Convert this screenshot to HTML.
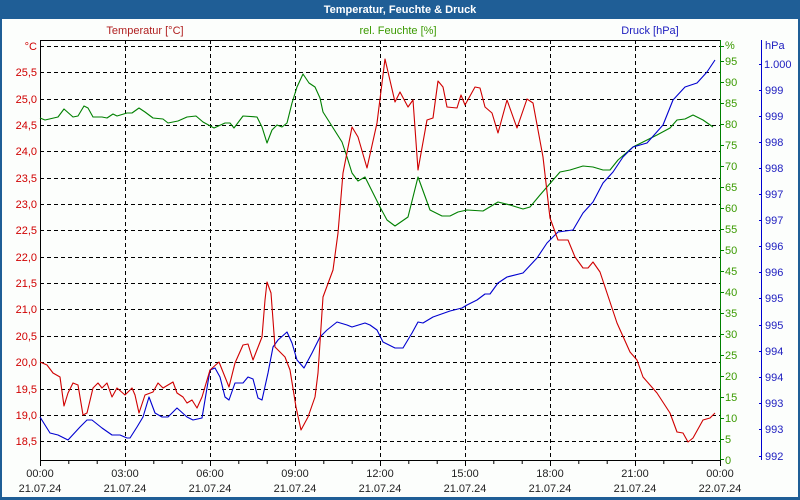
<!DOCTYPE html>
<html><head><meta charset="utf-8"><style>
html,body{margin:0;padding:0;background:#fff;}
svg{display:block;font-family:"Liberation Sans",sans-serif;font-size:11px;}
</style></head><body>
<svg width="800" height="500" viewBox="0 0 800 500" xmlns="http://www.w3.org/2000/svg">
<rect x="0" y="0" width="800" height="500" fill="#1f5e96"/>
<rect x="2" y="19" width="796" height="478" fill="#fcfefc"/>
<text x="400" y="13" fill="#fff" font-weight="bold" text-anchor="middle">Temperatur, Feuchte &amp; Druck</text>
<text x="145" y="34" fill="#b02020" text-anchor="middle">Temperatur [°C]</text>
<text x="398" y="34" fill="#3a9a00" text-anchor="middle">rel. Feuchte [%]</text>
<text x="650" y="34" fill="#2020c0" text-anchor="middle">Druck [hPa]</text>
<g stroke="#000" stroke-width="1" stroke-dasharray="4,3" fill="none">
<path d="M40 46.5H720M40 72.5H720M40 99.5H720M40 125.5H720M40 151.5H720M40 178.5H720M40 204.5H720M40 230.5H720M40 257.5H720M40 283.5H720M40 309.5H720M40 336.5H720M40 362.5H720M40 389.5H720M40 415.5H720M40 441.5H720"/>
<path d="M125.5 40V460M210.5 40V460M295.5 40V460M380.5 40V460M465.5 40V460M550.5 40V460M635.5 40V460"/>
</g>
<path d="M40.5 460V40.5H720" stroke="#000" fill="none"/>
<path d="M40 460.5H720" stroke="#000"/>
<path d="M40.5 460V466M68.8 460V464M97.2 460V464M125.5 460V466M153.8 460V464M182.2 460V464M210.5 460V466M238.8 460V464M267.2 460V464M295.5 460V466M323.8 460V464M352.2 460V464M380.5 460V466M408.8 460V464M437.2 460V464M465.5 460V466M493.8 460V464M522.2 460V464M550.5 460V466M578.8 460V464M607.2 460V464M635.5 460V466M663.8 460V464M692.2 460V464M720.5 460V466" stroke="#000"/>
<g fill="#222" text-anchor="middle">
<text x="40" y="477">00:00</text><text x="40" y="492">21.07.24</text>
<text x="125" y="477">03:00</text><text x="125" y="492">21.07.24</text>
<text x="210" y="477">06:00</text><text x="210" y="492">21.07.24</text>
<text x="295" y="477">09:00</text><text x="295" y="492">21.07.24</text>
<text x="380" y="477">12:00</text><text x="380" y="492">21.07.24</text>
<text x="465" y="477">15:00</text><text x="465" y="492">21.07.24</text>
<text x="550" y="477">18:00</text><text x="550" y="492">21.07.24</text>
<text x="635" y="477">21:00</text><text x="635" y="492">21.07.24</text>
<text x="720" y="477">00:00</text><text x="720" y="492">22.07.24</text>
</g>
<g fill="#d00000" text-anchor="end">
<text x="37" y="50">°C</text><text x="37" y="76">25,5</text><text x="37" y="103">25,0</text><text x="37" y="129">24,5</text><text x="37" y="155">24,0</text><text x="37" y="182">23,5</text><text x="37" y="208">23,0</text><text x="37" y="234">22,5</text><text x="37" y="261">22,0</text><text x="37" y="287">21,5</text><text x="37" y="313">21,0</text><text x="37" y="340">20,5</text><text x="37" y="366">20,0</text><text x="37" y="393">19,5</text><text x="37" y="419">19,0</text><text x="37" y="445">18,5</text>
</g>
<path d="M720.5 40V460" stroke="#008000"/>
<g stroke="#008000"><path d="M720 46.5h4M720 61.5h4M720 82.5h4M720 103.5h4M720 124.5h4M720 145.5h4M720 166.5h4M720 187.5h4M720 208.5h4M720 229.5h4M720 250.5h4M720 271.5h4M720 292.5h4M720 313.5h4M720 334.5h4M720 355.5h4M720 376.5h4M720 397.5h4M720 418.5h4M720 439.5h4M720 459.5h4"/></g>
<g fill="#3a9a00">
<text x="725" y="49">%</text><text x="725" y="65">95</text><text x="725" y="86">90</text><text x="725" y="107">85</text><text x="725" y="128">80</text><text x="725" y="149">75</text><text x="725" y="170">70</text><text x="725" y="191">65</text><text x="725" y="212">60</text><text x="725" y="233">55</text><text x="725" y="254">50</text><text x="725" y="275">45</text><text x="725" y="296">40</text><text x="725" y="317">35</text><text x="725" y="338">30</text><text x="725" y="359">25</text><text x="725" y="380">20</text><text x="725" y="401">15</text><text x="725" y="422">10</text><text x="725" y="443">5</text><text x="725" y="464">0</text>
</g>
<path d="M761.5 40V460" stroke="#0000d0"/>
<g stroke="#0000d0"><path d="M759 64.5h3M759 90.5h3M759 116.5h3M759 142.5h3M759 168.5h3M759 194.5h3M759 220.5h3M759 246.5h3M759 272.5h3M759 298.5h3M759 325.5h3M759 351.5h3M759 377.5h3M759 403.5h3M759 429.5h3M759 456.5h3"/></g>
<g fill="#2020c0">
<text x="765" y="49">hPa</text><text x="764" y="68">1.000</text><text x="765" y="94">999</text><text x="765" y="120">999</text><text x="765" y="146">998</text><text x="765" y="172">998</text><text x="765" y="198">997</text><text x="765" y="224">997</text><text x="765" y="250">996</text><text x="765" y="276">996</text><text x="765" y="302">995</text><text x="765" y="329">995</text><text x="765" y="355">994</text><text x="765" y="381">994</text><text x="765" y="407">993</text><text x="765" y="433">993</text><text x="765" y="460">992</text>
</g>
<g fill="none" stroke-width="1.1" stroke-linejoin="round">
<polyline stroke="#008000" points="40,118 45,120 58,117 64,109 73,117 78,116 84,106 88,108 93,117 102,117 107,118 113,114 117,116 127,113 132,113 139,108 145,112 153,118 163,119 168,123 178,121 187,117 196,116 203,122 214,128 225,123 230,123 234,128 243,116 257,117 262,127 267,143 272,130 277,125 282,127 287,123 292,103 297,87 303,74 309,83 315,87 320,98 323,112 330,123 342,142 347,157 352,173 358,181 365,177 370,187 380,207 387,220 395,226 408,217 418,177 430,210 442,216 450,216 458,212 467,210 483,211 498,202 510,205 523,209 530,207 540,195 560,172 570,170 583,166 593,167 603,170 610,170 618,160 633,147 647,140 657,135 670,128 677,120 685,119 693,115 703,120 713,127"/>
<polyline stroke="#0000d0" points="40,417 50,433 58,435 68,440 80,427 87,420 92,420 102,428 112,435 120,435 127,438 130,438 137,427 143,417 149,397 155,413 162,417 168,417 177,408 187,417 193,420 202,418 210,370 215,368 220,377 225,397 229,400 235,383 243,383 248,377 253,379 258,398 262,400 268,373 273,347 278,340 287,332 292,343 297,360 304,368 312,353 320,337 327,330 337,322 347,325 352,327 365,323 370,325 377,330 383,342 395,348 403,348 412,333 418,322 423,323 433,317 450,311 462,308 467,305 477,300 485,294 490,294 498,283 507,277 523,273 537,258 547,243 558,232 573,230 583,213 593,202 603,183 613,172 623,157 633,147 647,143 663,125 673,100 685,87 697,83 707,72 715,60"/>
<polyline stroke="#d00000" points="40,362 47,365 53,373 60,377 64,406 68,393 73,383 78,385 83,415 87,413 93,388 98,383 102,388 107,383 112,397 117,388 125,395 132,388 135,395 139,413 145,395 153,392 158,383 163,388 173,382 177,393 183,397 187,403 192,400 197,408 202,397 210,370 219,362 229,387 235,363 243,345 248,344 253,360 262,337 265,300 267,282 271,293 275,347 285,357 290,370 296,407 301,430 308,417 315,397 318,373 323,297 333,270 338,233 343,173 352,127 358,137 367,168 377,123 385,59 395,102 400,92 408,107 413,100 418,170 427,120 433,118 438,81 443,87 447,107 457,108 461,95 465,105 475,87 480,88 485,107 492,113 498,133 507,100 517,128 527,99 533,103 543,157 550,218 558,240 568,240 575,257 583,268 588,268 593,262 600,272 617,323 630,352 637,360 643,377 657,393 670,413 677,432 683,433 688,442 693,438 703,420 710,418 715,413"/>
</g>
</svg>
</body></html>
